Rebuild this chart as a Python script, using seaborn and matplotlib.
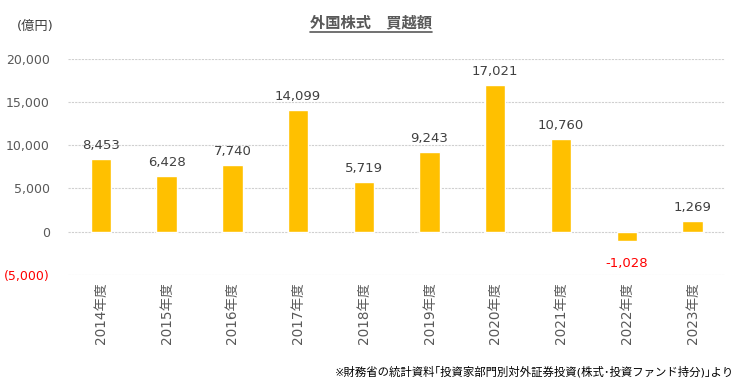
import matplotlib
matplotlib.use("Agg")
import matplotlib.pyplot as plt
from matplotlib.lines import Line2D
from matplotlib.ticker import FuncFormatter
import numpy as np
import pandas as pd
import seaborn as sns

years = ["2014年度", "2015年度", "2016年度", "2017年度", "2018年度",
         "2019年度", "2020年度", "2021年度", "2022年度", "2023年度"]
values = [8453, 6428, 7740, 14099, 5719, 9243, 17021, 10760, -1028, 1269]
yticks = [-5000, 0, 5000, 10000, 15000, 20000]

sns.set_theme(style="white")
plt.rcParams['font.family'] = ['DejaVu Sans', 'Noto Sans CJK JP']

gray = "#595959"
df = pd.DataFrame({"year": years, "value": values})

fig = plt.figure(figsize=(7.42, 3.85), dpi=100)
ax = fig.add_axes([0.0916, 0.286, 0.886, 0.561])

sns.barplot(data=df, x="year", y="value", color="#FFC000", width=0.31,
            saturation=1, ax=ax, zorder=3)

ax.set_ylim(-5000, 20000)
ax.set_yticks(yticks)
ax.yaxis.set_major_formatter(FuncFormatter(
    lambda v, p: f"({abs(int(v)):,})" if v < 0 else f"{int(v):,}"))
ax.set_xlabel("")
ax.set_ylabel("")
for s in ax.spines.values():
    s.set_visible(False)
ax.grid(axis="y", color="#d0d0d0", linestyle=(0, (2, 1)), linewidth=0.8, zorder=0)
ax.tick_params(axis="y", length=0, labelsize=9, labelcolor=gray, pad=13)
ax.tick_params(axis="x", length=0, labelsize=9.8, labelcolor=gray, pad=5)
for lab in ax.get_xticklabels():
    lab.set_rotation(90)
for lab in ax.get_yticklabels():
    if lab.get_text().startswith("("):
        lab.set_color("red")

for i, v in enumerate(values):
    if v >= 0:
        ax.annotate(f"{v:,}", (i, v), xytext=(0, 5), textcoords="offset points",
                    ha="center", va="bottom", fontsize=9.5, color="#404040")
    else:
        ax.annotate(f"{v:,}", (i, v), xytext=(0, -12), textcoords="offset points",
                    ha="center", va="top", fontsize=9.5, color="red")

t = fig.text(0.5, 0.942, "外国株式\u3000買越額", ha="center", va="center",
             fontsize=11, fontweight="bold", color=gray,
             family=['Noto Sans CJK JP', 'DejaVu Sans'])
fig.text(0.047, 0.93, "(億円)", ha="center", va="center", fontsize=9.5, color="#404040")
fig.text(0.99, 0.035, "※財務省の統計資料｢投資家部門別対外証券投資(株式･投資ファンド持分)｣より",
         ha="right", va="center", fontsize=8.2, color="black")

fig.canvas.draw()
bb = t.get_window_extent().transformed(fig.transFigure.inverted())
fig.add_artist(Line2D([bb.x0, bb.x1], [bb.y0 - 0.004, bb.y0 - 0.004],
                      color=gray, linewidth=1.2, transform=fig.transFigure))

fig.savefig("out.png", dpi=100)
